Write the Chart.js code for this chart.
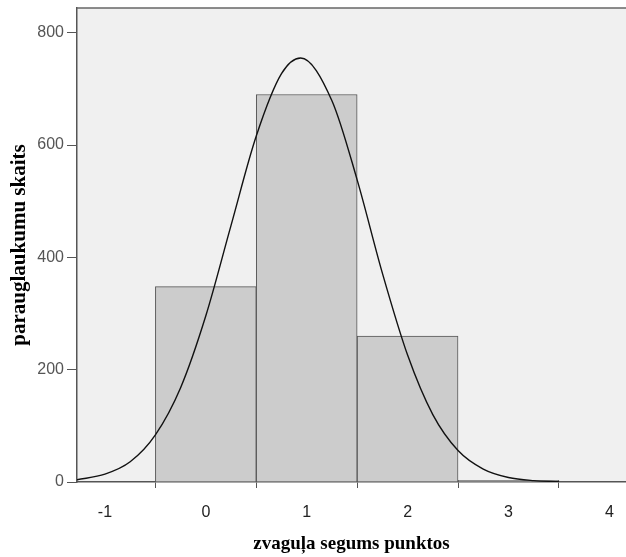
<!DOCTYPE html>
<html>
<head>
<meta charset="utf-8">
<script src="https://cdn.jsdelivr.net/npm/chart.js@4"></script>
<style>
  html, body { margin: 0; padding: 0; background: #fff; }
  #wrap { width: 626px; height: 557px; }
</style>
</head>
<body>
<div id="wrap"><canvas id="histChart"></canvas></div>
<script>
// histogram bins (centre of bin) and counts
const binCenters = [0, 1, 2, 3];
const binCounts = [348, 690, 260, 3];

// normal curve
const curveX = [-1.28, -1, -0.75, -0.5, -0.25, 0, 0.25, 0.5, 0.75, 0.94, 1.25, 1.5, 1.75, 2, 2.25, 2.5, 2.75, 3, 3.25, 3.5];
const curveY = [4, 14, 36, 84, 168, 296, 457, 616, 727, 755, 679, 538, 372, 226, 120, 56, 23, 8, 2.5, 0.7];

const xTicks = [-1, 0, 1, 2, 3, 4];
const yTicks = [0, 200, 400, 600, 800];

const ctx = document.getElementById("histChart");

const plotBg = {
  id: "plotBg",
  beforeDraw(chart) {
    const { ctx, chartArea: a } = chart;
    ctx.save();
    ctx.fillStyle = "#f0f0f0";
    ctx.fillRect(a.left, a.top, a.right - a.left, a.bottom - a.top);
    ctx.restore();
  },
  afterDraw(chart) {
    const { ctx, chartArea: a } = chart;
    ctx.save();
    ctx.strokeStyle = "#666";
    ctx.lineWidth = 1.5;
    ctx.beginPath();
    ctx.moveTo(a.left, a.top);
    ctx.lineTo(a.right, a.top);
    ctx.stroke();
    ctx.restore();
  },
};

new Chart(ctx, {
  type: "bar",
  data: {
    datasets: [
      {
        type: "line",
        data: curveX.map((x, i) => ({ x: x, y: curveY[i] })),
        borderColor: "#111",
        borderWidth: 1.4,
        pointRadius: 0,
        cubicInterpolationMode: "monotone",
        fill: false,
        order: 0,
      },
      {
        type: "bar",
        data: binCenters.map((x, i) => ({ x: x, y: binCounts[i] })),
        backgroundColor: "#cccccc",
        borderColor: "#555",
        borderWidth: 1,
        categoryPercentage: 1,
        barPercentage: 1,
        order: 1,
      },
    ],
  },
  options: {
    responsive: true,
    maintainAspectRatio: false,
    animation: false,
    layout: { padding: { top: 0, right: 0, left: 0, bottom: 0 } },
    scales: {
      x: {
        type: "linear",
        offset: false,
        min: -1.277,
        max: 4.165,
        afterFit(scale) { scale.height = 75; },
        afterBuildTicks(scale) { scale.ticks = xTicks.map((v) => ({ value: v })); },
        ticks: {
          includeBounds: false,
          padding: 12,
          color: "#222",
          font: { family: "Liberation Sans", size: 16, lineHeight: 1.6 },
        },
        grid: { drawOnChartArea: false, tickLength: 6, color: "#555" },
        border: { color: "#555", width: 1.5 },
        title: {
          display: true,
          text: "zvaguļa segums punktos",
          color: "#000",
          font: { family: "Liberation Serif", size: 19, weight: "bold" },
          padding: { top: 0, bottom: 2 },
        },
      },
      y: {
        min: 0,
        max: 844,
        afterFit(scale) { scale.width = 77; },
        afterBuildTicks(scale) { scale.ticks = yTicks.map((v) => ({ value: v })); },
        ticks: {
          includeBounds: false,
          padding: 3,
          color: "#555",
          font: { family: "Liberation Sans", size: 16, lineHeight: 0.625 },
        },
        grid: { drawOnChartArea: false, tickLength: 10, color: "#555" },
        border: { color: "#555", width: 1.5 },
        title: {
          display: true,
          text: "parauglaukumu skaits",
          color: "#000",
          font: { family: "Liberation Serif", size: 21, weight: "bold" },
          padding: { top: 7, bottom: 0 },
        },
      },
    },
    plugins: {
      legend: { display: false },
      tooltip: { enabled: false },
    },
  },
  plugins: [plotBg],
});
</script>
</body>
</html>
